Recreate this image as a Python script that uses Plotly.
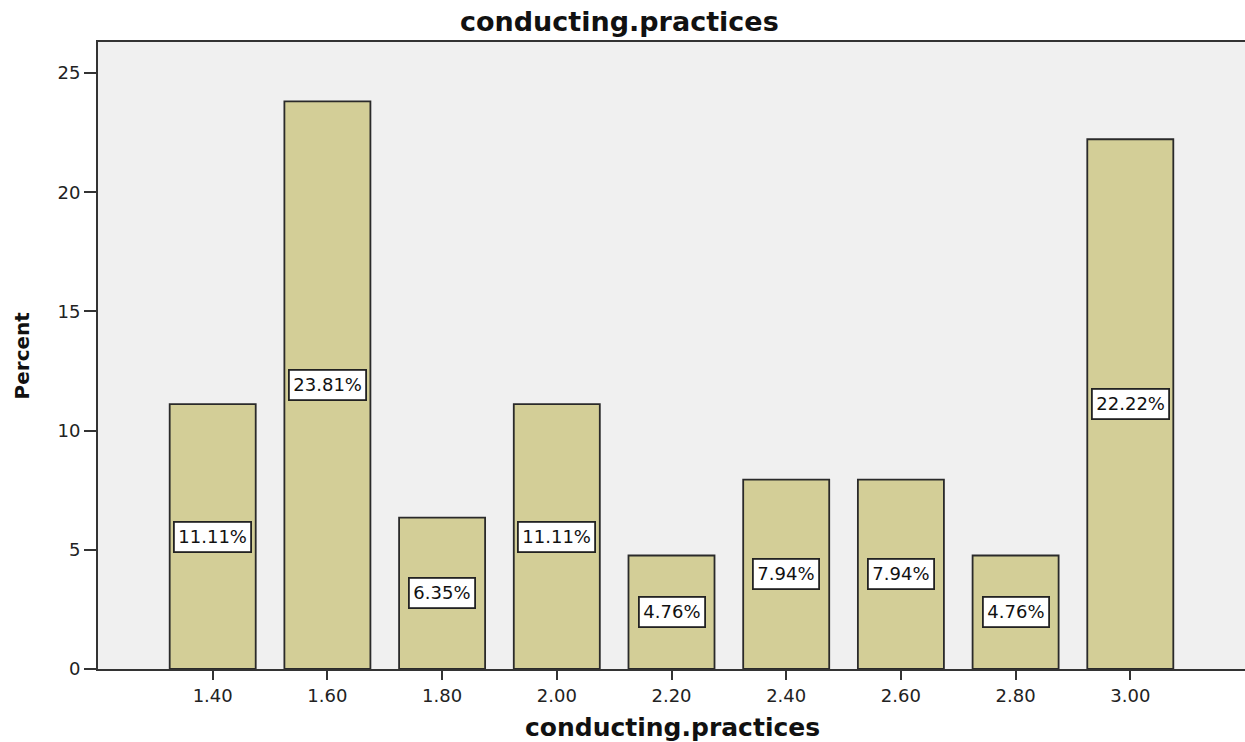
import plotly.graph_objects as go

categories = ["1.40", "1.60", "1.80", "2.00", "2.20", "2.40", "2.60", "2.80", "3.00"]
percents = [11.11, 23.81, 6.35, 11.11, 4.76, 7.94, 7.94, 4.76, 22.22]
y_ticks = [0, 5, 10, 15, 20, 25]

FONT = "DejaVu Sans"

fig = go.Figure()
fig.add_trace(go.Bar(
    x=categories, y=percents, width=0.75,
    marker=dict(color="#d3ce97", line=dict(color="#2a2a2a", width=1.8)),
    hoverinfo="x+y",
))

for i, v in enumerate(percents):
    fig.add_annotation(
        x=i, y=v / 2, xref="x", yref="y", text=f"{v:.2f}%", showarrow=False,
        font=dict(family=FONT, size=18, color="#111"),
        bgcolor="white", bordercolor="#222", borderwidth=1.8, borderpad=3.5,
    )

# titles as paper annotations for exact placement
fig.add_annotation(text="<b>conducting.practices</b>", xref="paper", yref="paper",
                   x=0.455, y=1.032, xanchor="center", yanchor="middle", showarrow=False,
                   font=dict(family=FONT, size=27, color="#111"))
fig.add_annotation(text="<b>conducting.practices</b>", xref="paper", yref="paper",
                   x=0.501, y=-0.094, xanchor="center", yanchor="middle", showarrow=False,
                   font=dict(family=FONT, size=25, color="#111"))
fig.add_annotation(text="<b>Percent</b>", xref="paper", yref="paper",
                   x=-0.0663, y=0.5, xanchor="center", yanchor="middle", showarrow=False,
                   textangle=-90,
                   font=dict(family=FONT, size=20, color="#111"))

fig.update_layout(
    width=1245, height=742,
    margin=dict(l=98, r=0, t=42, b=73, autoexpand=False),
    paper_bgcolor="white", plot_bgcolor="#f0f0f0",
    showlegend=False,
    font=dict(family=FONT, color="#222"),
)
fig.update_xaxes(
    type="category", range=[-1, 9], automargin=False,
    showline=True, linecolor="#333", linewidth=1.8, mirror=True,
    ticks="outside", ticklen=9, tickwidth=1.8, tickcolor="#333",
    tickfont=dict(family=FONT, size=18, color="#222"),
    showgrid=False,
)
fig.update_yaxes(
    range=[0, 26.3], tickvals=y_ticks, automargin=False,
    showline=True, linecolor="#333", linewidth=1.8, mirror=True,
    ticks="outside", ticklen=12, tickwidth=1.8, tickcolor="#333",
    tickfont=dict(family=FONT, size=18, color="#222"),
    showgrid=False, zeroline=False,
)

fig.write_html("out.html", config={"displayModeBar": False},
               post_script="document.body.style.margin='0';document.body.style.overflow='hidden';")
